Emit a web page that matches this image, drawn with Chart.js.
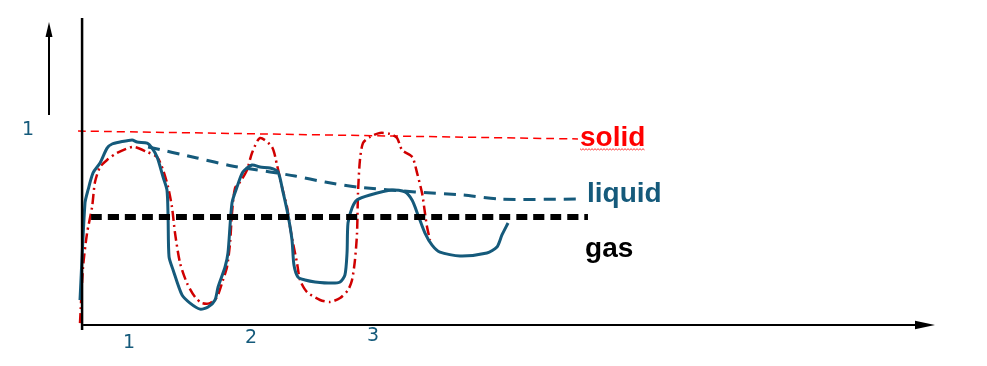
<!DOCTYPE html>
<html>
<head>
<meta charset="utf-8">
<title>solid / liquid / gas</title>
<script src="https://cdn.jsdelivr.net/npm/chart.js@4"></script>
<style>
  html, body { margin: 0; padding: 0; background: #ffffff; }
  #wrap { width: 987px; height: 366px; }
</style>
</head>
<body>
<div id="wrap"><canvas id="phaseChart" width="987" height="366"></canvas></div>
<script>
// ---------------------------------------------
// data (x: step units, y: 1 = solid level)
// ---------------------------------------------
const tealCurveX = [0.598, 0.639, 0.664, 0.705, 0.762, 0.820, 0.861, 0.926, 1.025, 1.066, 1.148, 1.189, 1.230, 1.279,
  1.311, 1.320, 1.328, 1.361, 1.434, 1.500, 1.582, 1.648, 1.705, 1.730, 1.787, 1.811, 1.844, 1.885, 1.934, 2.008,
  2.074, 2.156, 2.221, 2.262, 2.303, 2.336, 2.352, 2.385, 2.443, 2.525, 2.664, 2.730, 2.770, 2.787, 2.795, 2.828,
  2.869, 2.975, 3.156, 3.262, 3.320, 3.369, 3.426, 3.484, 3.549, 3.713, 3.934, 4.016, 4.057, 4.107];
const tealCurveY = [0.129, 0.629, 0.696, 0.784, 0.835, 0.912, 0.933, 0.943, 0.954, 0.943, 0.938, 0.912, 0.866, 0.763,
  0.696, 0.557, 0.351, 0.284, 0.155, 0.113, 0.082, 0.093, 0.129, 0.196, 0.299, 0.371, 0.629, 0.711, 0.789, 0.825,
  0.814, 0.809, 0.789, 0.686, 0.567, 0.438, 0.309, 0.247, 0.232, 0.222, 0.216, 0.222, 0.258, 0.371, 0.526, 0.603,
  0.644, 0.670, 0.696, 0.686, 0.644, 0.567, 0.474, 0.412, 0.376, 0.356, 0.371, 0.402, 0.464, 0.526];

const redCurveX = [0.598, 0.623, 0.656, 0.697, 0.721, 0.762, 0.820, 0.902, 1.033, 1.148, 1.230, 1.279, 1.320, 1.352,
  1.377, 1.418, 1.475, 1.541, 1.598, 1.664, 1.721, 1.770, 1.803, 1.828, 1.844, 1.869, 1.910, 1.967, 2.008, 2.074,
  2.172, 2.213, 2.254, 2.295, 2.320, 2.344, 2.377, 2.402, 2.459, 2.566, 2.648, 2.730, 2.795, 2.828, 2.852, 2.869,
  2.877, 2.893, 2.918, 2.975, 3.057, 3.139, 3.197, 3.238, 3.303, 3.328, 3.361, 3.402, 3.426, 3.443, 3.467];
const redCurveY = [0.010, 0.299, 0.474, 0.608, 0.737, 0.814, 0.851, 0.887, 0.918, 0.892, 0.866, 0.799, 0.711, 0.608,
  0.474, 0.320, 0.216, 0.144, 0.113, 0.113, 0.144, 0.232, 0.299, 0.423, 0.577, 0.706, 0.737, 0.799, 0.887, 0.964,
  0.918, 0.825, 0.711, 0.608, 0.505, 0.423, 0.320, 0.232, 0.170, 0.129, 0.119, 0.139, 0.180, 0.232, 0.335, 0.474,
  0.680, 0.851, 0.938, 0.969, 0.990, 0.985, 0.964, 0.902, 0.876, 0.861, 0.784, 0.680, 0.577, 0.505, 0.438];

const liquidRefX = [1.156, 1.557, 1.844, 2.156, 2.361, 2.607, 2.877, 3.344, 3.738, 4.041, 4.680];
const liquidRefY = [0.918, 0.861, 0.820, 0.789, 0.768, 0.737, 0.711, 0.686, 0.670, 0.649, 0.649];

const solidRefX = [0.582, 4.680];
const solidRefY = [1.000, 0.959];

const gasRefX = [0.689, 4.762];
const gasRefY = [0.557, 0.557];

const seriesNames = ['solid', 'liquid', 'gas'];
const xTickValues = [1, 2, 3];
const xTickLabels = ['1', '2', '3'];
const yTickValues = [1];
const yTickLabels = ['1'];

// ---------------------------------------------
// styles
// ---------------------------------------------
const COLORS = {
    teal: '#155a7b',
    red: '#ff0000',
    darkRed: '#d00000',
    black: '#000000'
};
const AXIS_ORIGIN_X = 0.615;   // where the vertical axis stands

function zip(xs, ys) {
    return xs.map((x, i) => ({ x: x, y: ys[i] }));
}

// axes, arrows, tick labels and series names drawn on top of the plot
const sketchAxes = {
    id: 'sketchAxes',
    afterDatasetsDraw(chart, args, opts) {
        const ctx = chart.ctx;
        const xs = chart.scales.x;
        const ys = chart.scales.y;
        const x0 = xs.getPixelForValue(AXIS_ORIGIN_X);
        const y0 = ys.getPixelForValue(0);

        ctx.save();
        ctx.strokeStyle = COLORS.black;
        ctx.fillStyle = COLORS.black;
        ctx.setLineDash([]);

        // vertical axis
        ctx.lineWidth = 2.5;
        ctx.beginPath();
        ctx.moveTo(x0, chart.chartArea.top + 3);
        ctx.lineTo(x0, y0 + 5);
        ctx.stroke();

        // horizontal axis with arrow
        const xEnd = chart.chartArea.right - 5;
        ctx.lineWidth = 2.2;
        ctx.beginPath();
        ctx.moveTo(x0 + 1, y0);
        ctx.lineTo(xEnd - 14, y0);
        ctx.stroke();
        ctx.beginPath();
        ctx.moveTo(xEnd, y0);
        ctx.lineTo(xEnd - 20, y0 - 4.3);
        ctx.lineTo(xEnd - 20, y0 + 4.3);
        ctx.closePath();
        ctx.fill();

        // free arrow on the left
        ctx.lineWidth = 2;
        ctx.beginPath();
        ctx.moveTo(49, 115);
        ctx.lineTo(49, 33);
        ctx.stroke();
        ctx.beginPath();
        ctx.moveTo(49, 22);
        ctx.lineTo(45.5, 37);
        ctx.lineTo(52.5, 37);
        ctx.closePath();
        ctx.fill();

        // tick labels
        ctx.fillStyle = COLORS.teal;
        ctx.font = '19px "DejaVu Sans", Verdana, sans-serif';
        ctx.textAlign = 'center';
        ctx.textBaseline = 'middle';
        xTickValues.forEach((v, i) => {
            ctx.fillText(xTickLabels[i], xs.getPixelForValue(v), y0 + opts.tickDrop[i]);
        });
        yTickValues.forEach((v, i) => {
            ctx.fillText(yTickLabels[i], 28, ys.getPixelForValue(v) - 1);
        });

        // series names
        ctx.font = 'bold 28px "Liberation Sans", Arial, sans-serif';
        ctx.textAlign = 'left';
        ctx.textBaseline = 'alphabetic';
        opts.names.forEach((n, i) => {
            ctx.fillStyle = n.color;
            ctx.fillText(seriesNames[i], xs.getPixelForValue(n.x), ys.getPixelForValue(n.y));
        });

        // spell-check squiggle under "solid"
        const sx = xs.getPixelForValue(opts.names[0].x);
        const sw = ctx.measureText(seriesNames[0]).width;
        const sy = ys.getPixelForValue(opts.names[0].y) + 3;
        ctx.strokeStyle = '#ff3030';
        ctx.lineWidth = 1;
        ctx.beginPath();
        for (let k = 0; k <= sw; k += 1.5) {
            const yy = sy + ((Math.round(k / 1.5) % 2) ? 1 : -0.2);
            if (k === 0) ctx.moveTo(sx + k, yy); else ctx.lineTo(sx + k, yy);
        }
        ctx.stroke();
        ctx.restore();
    }
};

function lineSet(points, color, width, dash, order) {
    return {
        data: points,
        borderColor: color,
        borderWidth: width,
        borderDash: dash,
        pointRadius: 0,
        fill: false,
        tension: 0.25,
        order: order
    };
}

new Chart(document.getElementById('phaseChart').getContext('2d'), {
    type: 'line',
    data: {
        datasets: [
            lineSet(zip(solidRefX, solidRefY), COLORS.red, 1.5, [8, 5], 5),
            lineSet(zip(liquidRefX, liquidRefY), COLORS.teal, 3, [12, 8], 4),
            lineSet(zip(redCurveX, redCurveY), COLORS.darkRed, 2.5, [10, 4, 2, 4], 3),
            lineSet(zip(tealCurveX, tealCurveY), COLORS.teal, 3, [], 2),
            lineSet(zip(gasRefX, gasRefY), COLORS.black, 6, [11, 6], 1)
        ]
    },
    options: {
        responsive: false,
        animation: false,
        devicePixelRatio: 1,
        layout: { padding: { left: 75, right: 47, top: 15, bottom: 31 } },
        scales: {
            x: { type: 'linear', min: 0.557, max: 7.648, display: false },
            y: { type: 'linear', min: -0.0515, max: 1.598, display: false }
        },
        plugins: {
            legend: { display: false },
            tooltip: { enabled: false },
            sketchAxes: {
                tickDrop: [18, 13.5, 11.5],
                names: [
                    { x: 4.697, y: 0.923, color: COLORS.red },
                    { x: 4.754, y: 0.634, color: COLORS.teal },
                    { x: 4.738, y: 0.351, color: COLORS.black }
                ]
            }
        }
    },
    plugins: [sketchAxes]
});
</script>
</body>
</html>
